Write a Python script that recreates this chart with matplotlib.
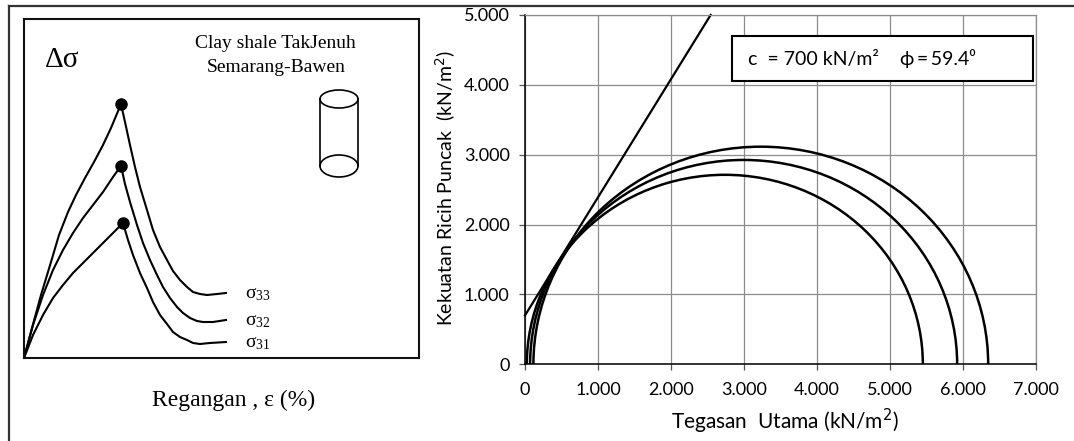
import matplotlib.pyplot as plt
import numpy as np
from matplotlib.patches import Arc, Ellipse, Rectangle
from matplotlib.lines import Line2D
from matplotlib.ticker import FuncFormatter, MultipleLocator

# stress-strain sketch (arbitrary units)
strain_33 = [0, 8, 17, 27, 35, 44, 52, 61, 70, 79, 87, 97,
             101, 106, 111, 116, 123, 129, 136, 143, 149, 156, 163, 169, 176, 183, 193, 202]
stress_33 = [0, 30, 63, 96, 123, 146, 163, 180, 196, 213, 230, 254,
             236, 213, 191, 171, 148, 128, 111, 98, 87, 78, 71, 66, 64, 63, 64, 65]
strain_32 = [0, 9, 19, 29, 39, 49, 59, 69, 79, 89, 97,
             101, 106, 113, 119, 126, 133, 139, 146, 153, 159, 166, 173, 179, 189, 202]
stress_32 = [0, 33, 63, 88, 108, 125, 140, 153, 166, 181, 192,
             174, 156, 133, 115, 98, 83, 71, 60, 51, 45, 40, 37, 36, 36, 38]
strain_31 = [0, 9, 19, 29, 39, 49, 59, 69, 79, 89, 99,
             104, 109, 116, 123, 129, 136, 143, 149, 156, 163, 169, 176, 186, 202]
stress_31 = [0, 23, 43, 60, 73, 85, 95, 105, 115, 125, 135,
             118, 103, 85, 70, 56, 43, 34, 26, 21, 18, 15, 14, 15, 16]
peak_idx = [11, 10, 10]
sigma_labels = [r'$\mathregular{σ_{33}}$', r'$\mathregular{σ_{32}}$', r'$\mathregular{σ_{31}}$']

# Mohr circles (kN/m2)
sigma3 = [25, 70, 115]
sigma1 = [5450, 5920, 6345]
c = 700
phi = 59.4

W, H = 1074, 441
fig = plt.figure(figsize=(W / 100, H / 100), dpi=100)

def rect(x0, y0, x1, y1):
    return [x0 / W, 1 - y1 / H, (x1 - x0) / W, (y1 - y0) / H]

# outer frame (top and left only)
fig.add_artist(Line2D([9 / W, 1], [1 - 6 / H, 1 - 6 / H], color='#333333', lw=1.6, transform=fig.transFigure))
fig.add_artist(Line2D([9 / W, 9 / W], [0, 1 - 6 / H], color='#333333', lw=1.6, transform=fig.transFigure))

# ---- left panel ----
axl = fig.add_axes(rect(24, 19, 419, 358))
axl.set_xlim(0, 395)
axl.set_ylim(0, 339)
axl.set_xticks([])
axl.set_yticks([])
for s in axl.spines.values():
    s.set_linewidth(1.5)
    s.set_color('#111111')

curves = [(strain_33, stress_33), (strain_32, stress_32), (strain_31, stress_31)]
for (xs, ys), pk, lab in zip(curves, peak_idx, sigma_labels):
    axl.plot(xs, ys, color='black', lw=1.5, solid_joinstyle='round')
    axl.plot(xs[pk], ys[pk], 'o', color='black', ms=8)
    axl.text(221, ys[-1] - 1, lab, fontsize=14, family='Liberation Serif', va='center', ha='left')

axl.text(21, 298, 'Δσ', fontsize=21, family='Liberation Serif', va='center', ha='left')
axl.text(251, 315, 'Clay shale TakJenuh', fontsize=14, family='Liberation Serif', ha='center', va='center')
axl.text(252, 291, 'Semarang-Bawen', fontsize=14, family='Liberation Serif', ha='center', va='center')

# cylinder
axl.add_patch(Ellipse((315, 259), 38, 18, fill=False, lw=1.2, color='black'))
axl.add_patch(Ellipse((315, 192), 38, 22, fill=False, lw=1.2, color='black'))
axl.plot([296, 296], [192, 259], color='black', lw=1.2)
axl.plot([334, 334], [192, 259], color='black', lw=1.2)

fig.text(234 / W, 1 - 400 / H, 'Regangan , ε (%)', fontsize=17, family='Liberation Serif', ha='center', va='center')

# ---- right panel ----
ax = fig.add_axes(rect(525, 15, 1036, 364.3))
ax.set_xlim(0, 7000)
ax.set_ylim(0, 5000)
ax.xaxis.set_major_locator(MultipleLocator(1000))
ax.yaxis.set_major_locator(MultipleLocator(1000))
fmt = FuncFormatter(lambda v, p: f'{v:,.0f}'.replace(',', '.'))
ax.xaxis.set_major_formatter(fmt)
ax.yaxis.set_major_formatter(fmt)
ax.grid(True, color='#8c8c8c', lw=0.9)
ax.set_axisbelow(True)
ax.tick_params(direction='out', length=4, width=0.9, color='#555555', labelsize=13)
ax.tick_params(axis='x', pad=9)
ax.tick_params(axis='y', pad=7)
for lab in ax.get_xticklabels() + ax.get_yticklabels():
    lab.set_family('Lato')
for side in ['top', 'right']:
    ax.spines[side].set_color('#8c8c8c')
    ax.spines[side].set_linewidth(0.9)
for side in ['left', 'bottom']:
    ax.spines[side].set_color('black')
    ax.spines[side].set_linewidth(1.1)

for s3, s1 in zip(sigma3, sigma1):
    ax.add_patch(Arc(((s1 + s3) / 2, 0), s1 - s3, s1 - s3, theta1=0, theta2=180,
                     color='black', lw=1.8))

tan_phi = np.tan(np.radians(phi))
x_env = np.array([0, (5000 - c) / tan_phi])
ax.plot(x_env, c + tan_phi * x_env, color='black', lw=1.6, clip_on=False)

ax.add_patch(Rectangle((732 / W, 1 - 81 / H), (1033 - 732) / W, 45 / H, transform=fig.transFigure,
                       facecolor='white', edgecolor='black', lw=1.5, zorder=5))
fig.text(748 / W, 1 - 59 / H, 'c  = 700 kN/m²', fontsize=14,
         family=['Lato', 'DejaVu Sans'], ha='left', va='center', zorder=6)
fig.text(900 / W, 1 - 59 / H, 'ϕ\u2009=\u200959.4⁰', fontsize=14,
         family=['Lato', 'DejaVu Sans'], ha='left', va='center', zorder=6)

fig.text(446 / W, 1 - 188 / H, 'Kekuatan Ricih Puncak  (kN/m$^2$)', rotation=90, fontsize=14,
         family='Lato', ha='center', va='center')
fig.text(785 / W, 1 - 421 / H, 'Tegasan  Utama (kN/m$^2$)', fontsize=15,
         family='Lato', ha='center', va='center')

fig.savefig('out.png', dpi=100)
